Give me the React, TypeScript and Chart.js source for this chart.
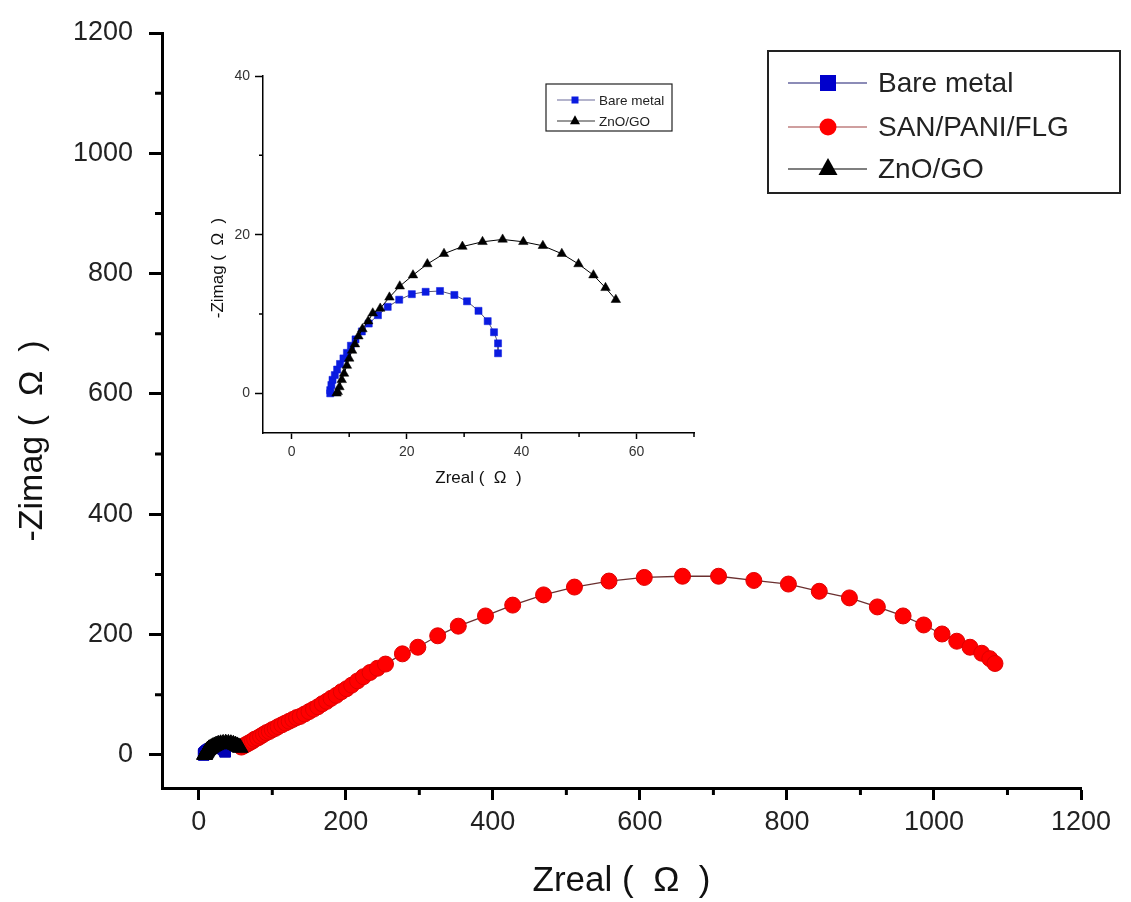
import React, { useEffect, useRef } from 'react';
import { Chart, registerables } from 'chart.js';

Chart.register(...registerables);

const FONT = '"Liberation Sans", Arial, Helvetica, sans-serif';

// ---- Data (Ω) ----
const bareMetalZreal = [6.7, 6.7, 6.9, 7.1, 7.5, 7.9, 8.4, 9.0, 9.6, 10.3, 11.1, 12.2, 13.4, 15.0, 16.7, 18.7, 20.9, 23.3, 25.8, 28.3, 30.5, 32.5, 34.1, 35.2, 35.9, 35.9];
const bareMetalZimag = [0, 0.4, 1.05, 1.7, 2.3, 3.0, 3.7, 4.4, 5.1, 6.0, 6.8, 7.8, 8.8, 9.85, 10.9, 11.8, 12.5, 12.8, 12.9, 12.4, 11.6, 10.4, 9.1, 7.7, 6.3, 5.05];

const sanPaniZreal = [58, 61, 64, 67, 70, 73, 76, 80, 84, 88, 92, 96, 100, 104, 108, 113, 118, 123, 128, 133, 138, 144, 150, 156, 162, 168, 174, 180, 187, 194, 201, 208, 216, 224, 233, 243, 254, 277, 298, 325, 353, 390, 427, 469, 511, 558, 606, 658, 707, 755, 802, 844, 885, 923, 958, 986, 1011, 1031, 1049, 1065, 1076, 1083];
const sanPaniZimag = [13, 15, 17, 19, 21, 23, 26, 28, 31, 34, 37, 39, 42, 44, 47, 50, 53, 56, 59, 62, 64, 68, 72, 76, 80, 85, 89, 94, 99, 105, 110, 116, 123, 130, 137, 144, 151, 168, 179, 198, 214, 231, 249, 266, 279, 289, 295, 297, 297, 290, 284, 272, 261, 246, 231, 216, 201, 189, 179, 169, 160, 152];

const znoGoZreal = [7.8, 8.0, 8.3, 8.7, 9.1, 9.6, 10.0, 10.5, 11.0, 11.6, 12.3, 13.3, 14.1, 15.4, 17.0, 18.8, 21.1, 23.6, 26.5, 29.7, 33.2, 36.7, 40.3, 43.7, 47.0, 49.9, 52.5, 54.6, 56.4];
const znoGoZimag = [0, 0.2, 0.8, 1.7, 2.5, 3.5, 4.4, 5.4, 6.2, 7.2, 8.1, 9.1, 10.1, 10.7, 12.1, 13.5, 14.9, 16.3, 17.6, 18.5, 19.1, 19.4, 19.1, 18.6, 17.6, 16.3, 14.9, 13.3, 11.8];

// ---- Tick values ----
const mainXTicks = [0, 200, 400, 600, 800, 1000, 1200];
const mainYTicks = [0, 200, 400, 600, 800, 1000, 1200];
const mainMinorTicks = [100, 300, 500, 700, 900, 1100];
const insetXTicks = [0, 20, 40, 60];
const insetYTicks = [0, 20, 40];
const insetXMinor = [10, 30, 50, 70];
const insetYMinor = [10, 30];

const seriesLabels = ['Bare metal', 'SAN/PANI/FLG', 'ZnO/GO'];

function toPoints(xs: number[], ys: number[]) {
  return xs.map((x, i) => ({ x, y: ys[i] }));
}

function drawMarker(ctx: CanvasRenderingContext2D, style: string, cx: number, cy: number, size: number, fill: string) {
  ctx.fillStyle = fill;
  ctx.beginPath();
  if (style === 'rect') {
    ctx.rect(cx - size / 2, cy - size / 2, size, size);
  } else if (style === 'circle') {
    ctx.arc(cx, cy, size / 2, 0, Math.PI * 2);
  } else {
    ctx.moveTo(cx, cy - size * 0.58);
    ctx.lineTo(cx + size / 2, cy + size * 0.32);
    ctx.lineTo(cx - size / 2, cy + size * 0.32);
    ctx.closePath();
  }
  ctx.fill();
}

function minorTicksPlugin(xMinor: number[], yMinor: number[], len: number, width: number) {
  return {
    id: 'minorTicks',
    afterDraw(chart: any) {
      const { ctx, chartArea } = chart;
      const xs = chart.scales.x;
      const ys = chart.scales.y;
      ctx.save();
      ctx.strokeStyle = '#000';
      ctx.lineWidth = width;
      ctx.beginPath();
      xMinor.forEach((v) => {
        const p = xs.getPixelForValue(v);
        ctx.moveTo(p, chartArea.bottom);
        ctx.lineTo(p, chartArea.bottom + len);
      });
      yMinor.forEach((v) => {
        const p = ys.getPixelForValue(v);
        ctx.moveTo(chartArea.left, p);
        ctx.lineTo(chartArea.left - len, p);
      });
      ctx.stroke();
      ctx.restore();
    },
  };
}

type LegendEntry = { label: string; style: string; fill: string; line: string; size: number; y: number };

function boxLegendPlugin(box: { x: number; y: number; w: number; h: number; lw: number }, entries: LegendEntry[], lineX0: number, lineX1: number, markerX: number, textX: number, fontSize: number) {
  return {
    id: 'boxLegend',
    afterDraw(chart: any) {
      const ctx: CanvasRenderingContext2D = chart.ctx;
      ctx.save();
      ctx.strokeStyle = '#222';
      ctx.lineWidth = box.lw;
      ctx.strokeRect(box.x, box.y, box.w, box.h);
      entries.forEach((e) => {
        ctx.strokeStyle = e.line;
        ctx.lineWidth = 1.2;
        ctx.beginPath();
        ctx.moveTo(lineX0, e.y);
        ctx.lineTo(lineX1, e.y);
        ctx.stroke();
        drawMarker(ctx, e.style, markerX, e.y, e.size, e.fill);
        ctx.fillStyle = '#222';
        ctx.font = `${fontSize}px ${FONT}`;
        ctx.textAlign = 'left';
        ctx.textBaseline = 'middle';
        ctx.fillText(e.label, textX, e.y + 1);
      });
      ctx.restore();
    },
  };
}

function yTitlePlugin(text: string, x: number, y: number, fontSize: number) {
  return {
    id: 'yTitle',
    afterDraw(chart: any) {
      const ctx: CanvasRenderingContext2D = chart.ctx;
      ctx.save();
      ctx.translate(x, y);
      ctx.rotate(-Math.PI / 2);
      ctx.fillStyle = '#111';
      ctx.font = `${fontSize}px ${FONT}`;
      ctx.textAlign = 'center';
      ctx.textBaseline = 'middle';
      ctx.fillText(text, 0, 0);
      ctx.restore();
    },
  };
}

export default function App() {
  const mainRef = useRef<HTMLCanvasElement>(null);
  const insetRef = useRef<HTMLCanvasElement>(null);

  useEffect(() => {
    Chart.defaults.font.family = FONT;

    const main = new Chart(mainRef.current as HTMLCanvasElement, {
      type: 'scatter',
      data: {
        datasets: [
          {
            label: seriesLabels[0],
            data: toPoints(bareMetalZreal, bareMetalZimag),
            showLine: true,
            borderColor: '#1a1a70',
            borderWidth: 1,
            pointStyle: 'rect',
            pointRadius: 7.5,
            pointBackgroundColor: '#0000B4',
            pointBorderColor: '#0000B4',
            pointBorderWidth: 1,
            order: 2,
          },
          {
            label: seriesLabels[1],
            data: toPoints(sanPaniZreal, sanPaniZimag),
            showLine: true,
            borderColor: '#6b3030',
            borderWidth: 1.3,
            pointStyle: 'circle',
            pointRadius: 8,
            pointBackgroundColor: '#FF0000',
            pointBorderColor: '#E00000',
            pointBorderWidth: 1,
            order: 1,
          },
          {
            label: seriesLabels[2],
            data: toPoints(znoGoZreal, znoGoZimag),
            showLine: true,
            borderColor: '#000',
            borderWidth: 1,
            pointStyle: 'triangle',
            pointRadius: 9,
            pointBackgroundColor: '#000',
            pointBorderColor: '#000',
            pointBorderWidth: 1,
            order: 0,
          },
        ],
      },
      options: {
        responsive: false,
        animation: false,
        devicePixelRatio: 1,
        layout: { padding: { left: 0, top: 33, right: 50, bottom: 0 } },
        plugins: { legend: { display: false }, tooltip: { enabled: false } },
        scales: {
          x: {
            type: 'linear',
            min: -50,
            max: 1200,
            afterBuildTicks: (s: any) => {
              s.ticks = mainXTicks.map((v) => ({ value: v }));
            },
            afterFit: (s: any) => {
              s.height = 114;
            },
            ticks: {
              callback: (v: any) => String(v),
              font: { size: 27, family: FONT },
              color: '#222',
              padding: 6,
              maxRotation: 0,
              autoSkip: false,
            },
            grid: { drawOnChartArea: false, tickLength: 12, tickWidth: 3, tickColor: '#000' },
            border: { color: '#000', width: 3 },
            title: {
              display: true,
              text: 'Zreal (  Ω  )',
              font: { size: 35, family: FONT },
              color: '#111',
              padding: { top: 0, bottom: 0 },
            },
          },
          y: {
            type: 'linear',
            min: -55,
            max: 1200,
            afterBuildTicks: (s: any) => {
              s.ticks = mainYTicks.map((v) => ({ value: v }));
            },
            afterFit: (s: any) => {
              s.width = 162;
            },
            ticks: {
              callback: (v: any) => String(v),
              font: { size: 27, family: FONT },
              color: '#222',
              padding: 16,
              autoSkip: false,
            },
            grid: { drawOnChartArea: false, tickLength: 13, tickWidth: 3, tickColor: '#000' },
            border: { color: '#000', width: 3 },
          },
        },
      },
      plugins: [
        minorTicksPlugin(mainMinorTicks, mainMinorTicks, 7, 3),
        boxLegendPlugin(
          { x: 768, y: 51, w: 352, h: 142, lw: 2 },
          [
            { label: seriesLabels[0], style: 'rect', fill: '#0000CC', line: '#1a1a70', size: 16, y: 83 },
            { label: seriesLabels[1], style: 'circle', fill: '#FF0000', line: '#a04040', size: 17, y: 127 },
            { label: seriesLabels[2], style: 'triangle', fill: '#000', line: '#000', size: 19, y: 169 },
          ],
          788,
          867,
          828,
          878,
          28
        ),
        yTitlePlugin('-Zimag (  Ω  )', 33, 441, 34),
      ],
    } as any);

    const inset = new Chart(insetRef.current as HTMLCanvasElement, {
      type: 'scatter',
      data: {
        datasets: [
          {
            label: seriesLabels[0],
            data: toPoints(bareMetalZreal, bareMetalZimag),
            showLine: true,
            borderColor: '#555577',
            borderWidth: 1,
            pointStyle: 'rect',
            pointRadius: 5,
            pointBackgroundColor: '#0a1be0',
            pointBorderColor: '#0a1be0',
            pointBorderWidth: 0.5,
            order: 1,
          },
          {
            label: seriesLabels[2],
            data: toPoints(znoGoZreal, znoGoZimag),
            showLine: true,
            borderColor: '#000',
            borderWidth: 1,
            pointStyle: 'triangle',
            pointRadius: 5.5,
            pointBackgroundColor: '#000',
            pointBorderColor: '#000',
            pointBorderWidth: 0.5,
            order: 0,
          },
        ],
      },
      options: {
        responsive: false,
        animation: false,
        devicePixelRatio: 1,
        layout: { padding: { left: 0, top: 16, right: 26, bottom: 0 } },
        plugins: { legend: { display: false }, tooltip: { enabled: false } },
        scales: {
          x: {
            type: 'linear',
            min: -5,
            max: 70,
            afterBuildTicks: (s: any) => {
              s.ticks = insetXTicks.map((v) => ({ value: v }));
            },
            afterFit: (s: any) => {
              s.height = 67;
            },
            ticks: {
              callback: (v: any) => String(v),
              font: { size: 14, family: FONT },
              color: '#333',
              padding: 5,
              maxRotation: 0,
              autoSkip: false,
            },
            grid: { drawOnChartArea: false, tickLength: 6, tickWidth: 1.5, tickColor: '#000' },
            border: { color: '#000', width: 1.5 },
            title: {
              display: true,
              text: 'Zreal (  Ω  )',
              font: { size: 17, family: FONT },
              color: '#111',
              padding: { top: 0, bottom: 11 },
            },
          },
          y: {
            type: 'linear',
            min: -5,
            max: 40,
            afterBuildTicks: (s: any) => {
              s.ticks = insetYTicks.map((v) => ({ value: v }));
            },
            afterFit: (s: any) => {
              s.width = 73;
            },
            ticks: {
              callback: (v: any) => String(v),
              font: { size: 14, family: FONT },
              color: '#333',
              padding: 5,
              autoSkip: false,
            },
            grid: { drawOnChartArea: false, tickLength: 8, tickWidth: 1.5, tickColor: '#000' },
            border: { color: '#000', width: 1.5 },
          },
        },
      },
      plugins: [
        minorTicksPlugin(insetXMinor, insetYMinor, 4, 1.5),
        boxLegendPlugin(
          { x: 356, y: 24, w: 126, h: 47, lw: 1.2 },
          [
            { label: seriesLabels[0], style: 'rect', fill: '#0a1be0', line: '#6a6a9a', size: 7, y: 40 },
            { label: seriesLabels[2], style: 'triangle', fill: '#000', line: '#333', size: 10, y: 61 },
          ],
          367,
          405,
          385,
          409,
          13.5
        ),
        yTitlePlugin('-Zimag (  Ω  )', 28, 208, 17),
      ],
    } as any);

    return () => {
      main.destroy();
      inset.destroy();
    };
  }, []);

  return (
    <div style={{ position: 'absolute', left: 0, top: 0, width: 1131, height: 902, background: '#fff' }}>
      <canvas
        ref={mainRef}
        width={1131}
        height={902}
        style={{ position: 'absolute', left: 0, top: 0, width: 1131, height: 902 }}
      />
      <canvas
        ref={insetRef}
        width={530}
        height={440}
        style={{ position: 'absolute', left: 190, top: 60, width: 530, height: 440 }}
      />
    </div>
  );
}
